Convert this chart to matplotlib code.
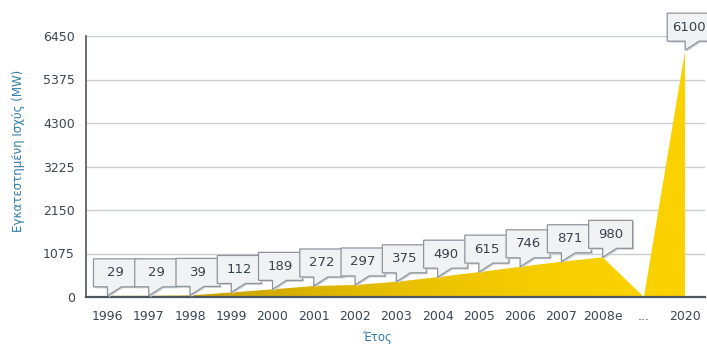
import numpy as np
import matplotlib
matplotlib.use("Agg")
import matplotlib.pyplot as plt
from matplotlib.patches import Polygon
from matplotlib.colors import LinearSegmentedColormap
import matplotlib.transforms as mtrans

categories = ["1996", "1997", "1998", "1999", "2000", "2001", "2002", "2003",
              "2004", "2005", "2006", "2007", "2008e", "...", "2020"]
values = [29, 29, 39, 112, 189, 272, 297, 375, 490, 615, 746, 871, 980, 0, 6100]
labels = ["29", "29", "39", "112", "189", "272", "297", "375", "490", "615",
          "746", "871", "980", None, "6100"]
yticks = [0, 1075, 2150, 3225, 4300, 5375, 6450]

W, H = 707, 344
fig = plt.figure(figsize=(W / 100, H / 100), dpi=100)
ax = fig.add_axes([86 / W, (H - 297) / H, (705 - 86) / W, (297 - 36) / H])

x = np.arange(len(categories))
ax.set_xlim(-0.52, 14.48)
ax.set_ylim(0, 6450)

# gradient-filled area
verts = [(x[0], 0)] + list(zip(x, values)) + [(x[-1], 0)]
poly = Polygon(verts, closed=True, facecolor="none", edgecolor="none")
ax.add_patch(poly)
grad = np.linspace(0, 1, 256).reshape(1, -1)
cmap = LinearSegmentedColormap.from_list(
    "g", ["#c29c00", "#d2aa00", "#e8c000", "#f6cd00", "#fcd300"])
im = ax.imshow(grad, extent=[x[0], x[-1], 0, 6450], aspect="auto", cmap=cmap,
               origin="lower", zorder=2)
im.set_clip_path(poly)

# grid & spines
ax.set_yticks(yticks)
ax.grid(axis="y", color="#c9ccd0", linewidth=1.0, zorder=0)
ax.set_axisbelow(True)
for s in ["top", "right"]:
    ax.spines[s].set_visible(False)
ax.spines["left"].set_color("#4a5560")
ax.spines["left"].set_linewidth(1.2)
ax.spines["bottom"].set_color("#4a5560")
ax.spines["bottom"].set_linewidth(1.6)
ax.spines["bottom"].set_zorder(5)
ax.set_xticks(x)
ax.set_xticklabels(categories)
ax.tick_params(axis="both", length=0, labelsize=9, colors="#3a4654")
ax.tick_params(axis="x", pad=9)
ax.tick_params(axis="y", pad=8)
ax.set_ylabel("Εγκατεστημένη Ισχύς (MW)", color="#2f7ca6", fontsize=8.5)
ax.yaxis.set_label_coords(-0.098, 0.56)
ax.set_xlabel("Έτος", color="#2f7ca6", fontsize=8.5)
ax.xaxis.set_label_coords(0.47, -0.13)

# callouts
def callout(xi, yi, text, z):
    off = mtrans.ScaledTranslation(xi, yi, ax.transData)
    base = mtrans.Affine2D().scale(fig.dpi / 100.0) + off
    if len(text) < 4:
        w_l, w_r = -14, 30
    else:
        w_l, w_r = -18, 26
    b, t = 9, 37
    shape = [(0, 0), (14, b), (w_r, b), (w_r, t), (w_l, t), (w_l, b), (0, b)]
    sh = Polygon([(px + 1.5, py - 1.5) for px, py in shape], closed=True,
                 facecolor="#cfd3d7", edgecolor="none", transform=base,
                 zorder=z, clip_on=False)
    ax.add_artist(sh)
    p = Polygon(shape, closed=True, facecolor="#f1f2f4", edgecolor="#8d949b",
                linewidth=0.9, transform=base, zorder=z + 0.1, clip_on=False)
    ax.add_artist(p)
    tt = mtrans.Affine2D().translate((w_l + w_r) / 2 * fig.dpi / 100.0,
                                     (b + t) / 2 * fig.dpi / 100.0) + off
    ax.text(0, 0, text, transform=tt, ha="center", va="center", fontsize=9.5,
            color="#37424d", zorder=z + 0.2, clip_on=False)

for i, (xi, v, lab) in enumerate(zip(x, values, labels)):
    if lab is None:
        continue
    callout(xi, v, lab, 10 + i)

fig.savefig("out.png", dpi=100)
